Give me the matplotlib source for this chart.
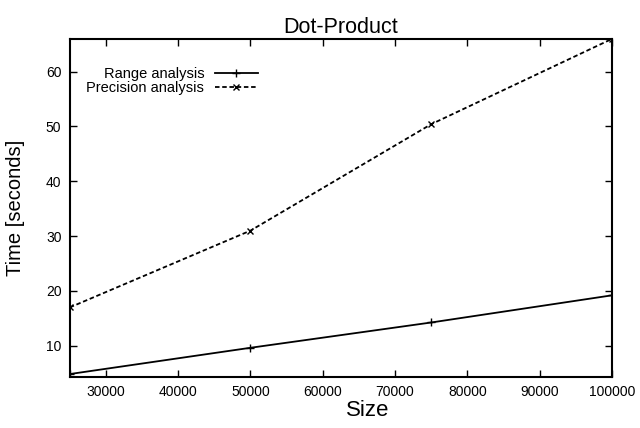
import matplotlib
matplotlib.use("Agg")
import matplotlib.pyplot as plt

plt.rcParams['font.family'] = ['Liberation Sans', 'DejaVu Sans']

sizes = [25000, 50000, 75000, 100000]
range_time = [4.85, 9.64, 14.25, 19.2]
precision_time = [17.0, 31.0, 50.4, 65.95]

fig = plt.figure(figsize=(6.4, 4.28), dpi=100)
ax = fig.add_axes([0.109, 0.119, 0.847, 0.790])

ax.plot(sizes, range_time, color='black', lw=1.3, marker='+', ms=6, mew=1.0,
        label='Range analysis')
ax.plot(sizes, precision_time, color='black', lw=1.3, ls=(0, (2.5, 1.5)),
        marker='x', ms=5, mew=1.0, label='Precision analysis')

ax.set_xlim(25000, 100000)
ax.set_ylim(4.3, 65.95)
ax.set_xticks(range(30000, 100001, 10000))
ax.set_yticks(range(10, 61, 10))
ax.tick_params(direction='in', top=True, right=True, length=5, width=1,
               labelsize=10, pad=6)
for s in ax.spines.values():
    s.set_linewidth(1.5)

ax.set_xlabel('Size', fontsize=16)
ax.xaxis.set_label_coords(0.55, -0.068)
ax.set_ylabel('Time [seconds]', fontsize=14.5)
ax.yaxis.set_label_coords(-0.082, 0.5)
ax.set_title('Dot-Product', fontsize=15.5, pad=4)

ax.legend(loc='upper left', bbox_to_anchor=(0.02, 0.935), frameon=False,
          markerfirst=False, fontsize=10.5, handlelength=3.0, numpoints=1,
          labelspacing=0.05, handletextpad=0.7, borderaxespad=0)

fig.savefig('out.png', dpi=100)
